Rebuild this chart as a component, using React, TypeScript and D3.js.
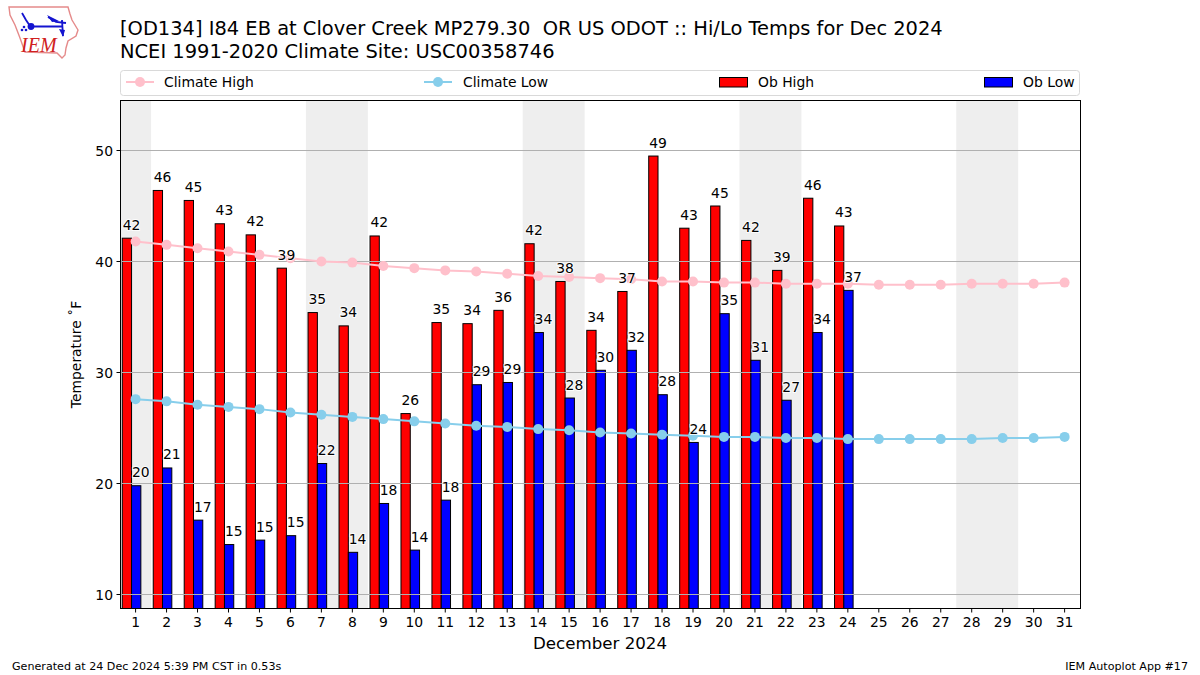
import React from "react";
import * as d3 from "d3";

const days = d3.range(1, 32);
const obDays = d3.range(1, 25);
const obHigh = [42.1,46.4,45.5,43.4,42.4,39.4,35.4,34.2,42.3,26.3,34.5,34.4,35.6,41.6,38.2,33.8,37.3,49.5,43.0,45.0,41.9,39.2,45.7,43.2];
const obLow = [19.8,21.4,16.7,14.5,14.9,15.3,21.8,13.8,18.2,14.0,18.5,28.9,29.1,33.6,27.7,30.2,32.0,28.0,23.7,35.3,31.1,27.5,33.6,37.4];
const obHighLabels = [42,46,45,43,42,39,35,34,42,26,35,34,36,42,38,34,37,49,43,45,42,39,46,43];
const obLowLabels = [20,21,17,15,15,15,22,14,18,14,18,29,29,34,28,30,32,28,24,35,31,27,34,37];
const climHigh = [41.8,41.5,41.2,40.9,40.6,40.3,40.0,39.9,39.6,39.4,39.2,39.1,38.9,38.7,38.6,38.5,38.4,38.2,38.2,38.1,38.1,38.0,38.0,38.0,37.9,37.9,37.9,38.0,38.0,38.0,38.1];
const climLow = [27.6,27.4,27.1,26.9,26.7,26.4,26.2,26.0,25.8,25.6,25.4,25.2,25.1,24.9,24.8,24.6,24.5,24.4,24.3,24.2,24.2,24.1,24.1,24.0,24.0,24.0,24.0,24.0,24.1,24.1,24.2];
const weekendBands = [[0.5,1.5],[6.5,8.5],[13.5,15.5],[20.5,22.5],[27.5,29.5]];
const yTicks = [10,20,30,40,50];
const titleLines = ["[OD134] I84 EB at Clover Creek MP279.30  OR US ODOT :: Hi/Lo Temps for Dec 2024","NCEI 1991-2020 Climate Site: USC00358746"];

const L = 120.5, R = 1080.5, T = 100.5, B = 608.5;
const x = d3.scaleLinear().domain([0.5, 31.5]).range([120.1, 1080.1]);
const y = d3.scaleLinear().domain([10, 50]).range([594.5, 150.5]);
const font = "'DejaVu Sans', sans-serif";
const barW = x(1.3) - x(1);
const line = d3.line<number>().x((_, i) => x(days[i])).y(d => y(d));

function Series({ values, color }: { values: number[]; color: string }) {
  return (
    <g>
      <path d={line(values) ?? ""} fill="none" stroke={color} strokeWidth={2} />
      {values.map((v, i) => <circle key={i} cx={x(days[i])} cy={y(v)} r={5} fill={color} />)}
    </g>
  );
}

function BarSet({ values, offset, color }: { values: number[]; offset: number; color: string }) {
  return (
    <g>
      {values.map((v, i) => (
        <rect key={i} x={x(obDays[i] + offset)} y={y(v)} width={barW} height={B - y(v)}
          fill={color} stroke="#000" strokeWidth={1} />
      ))}
    </g>
  );
}

function BarLabels({ values, labels, offset }: { values: number[]; labels: number[]; offset: number }) {
  return (
    <g>
      {values.map((v, i) => (
        <text key={i} x={x(obDays[i] + offset) + barW} y={y(v) - 8.5} textAnchor="middle" fontSize={13.9}
          fill="#000" stroke="#fff" strokeWidth={2} strokeOpacity={0.85} style={{ paintOrder: "stroke" }}>{labels[i]}</text>
      ))}
    </g>
  );
}

function Logo() {
  return (
    <g>
      <path d="M9,7 L68,7 L70,14 L72,20 L78,30 L76,36 L68,41 L66,48 L65,55 L62,58 L57,53 L25,52 L20,38 L15,25 L10,15 Z"
        fill="#fff" stroke="#e58a8a" strokeWidth={1.4} />
      <path d="M31,26.5 L63,26.5 M48,17 L56,22 L66,23 M62,20 L63,36 M22,13 L26,20 L30,26" fill="none" stroke="#1414d0" strokeWidth={1.8} />
      <circle cx={31} cy={26.5} r={3.4} fill="#1414d0" />
      <path d="M47,15 L59,21 L52,22 Z M59,29 L65,30 L63,37 Z" fill="#1414d0" />
      <circle cx={24} cy={27} r={1.3} fill="#1414d0" /><circle cx={26} cy={30} r={1.3} fill="#1414d0" /><circle cx={22} cy={30} r={1.3} fill="#1414d0" />
      <text x={21} y={52} fontFamily="'Liberation Serif', serif" fontStyle="italic" fontSize={20} fill="#d02020">IEM</text>
    </g>
  );
}

function Legend() {
  const legY = 82;
  const items = [
    { kind: "line", color: "#ffc0cb", x0: 126, label: "Climate High", tx: 164 },
    { kind: "line", color: "#87ceeb", x0: 424, label: "Climate Low", tx: 463 },
    { kind: "bar", color: "#ff0000", x0: 719, label: "Ob High", tx: 758 },
    { kind: "bar", color: "#0000ff", x0: 984, label: "Ob Low", tx: 1023 },
  ];
  return (
    <g>
      <rect x={120.5} y={70.5} width={959} height={25} rx={3} fill="#fff" stroke="#d9d9d9" strokeWidth={1} />
      {items.map(it => (
        <g key={it.label}>
          {it.kind === "line" ? (
            <g>
              <line x1={it.x0} x2={it.x0 + 28} y1={legY} y2={legY} stroke={it.color} strokeWidth={2} />
              <circle cx={it.x0 + 14} cy={legY} r={5} fill={it.color} />
            </g>
          ) : (
            <rect x={it.x0 + 0.5} y={legY - 4.5} width={28} height={9.5} fill={it.color} stroke="#000" strokeWidth={1} />
          )}
          <text x={it.tx} y={legY + 4.5} fontSize={13.9} fill="#000">{it.label}</text>
        </g>
      ))}
    </g>
  );
}

export default function App() {
  return (
    <svg width={1200} height={675} viewBox="0 0 1200 675" fontFamily={font}
      style={{ position: "absolute", left: 0, top: 0, background: "#fff" }}>
      <Logo />
      {titleLines.map((t, i) => (
        <text key={i} x={120} y={35 + i * 22.5} fontSize={19.44} fill="#000" xmlSpace="preserve">{t}</text>
      ))}
      <Legend />
      {weekendBands.map(([a, b]) => (
        <rect key={a} x={x(a)} y={T} width={x(b) - x(a)} height={B - T} fill="#eeeeee" />
      ))}
      <BarSet values={obHigh} offset={-0.43} color="#ff0000" />
      <BarSet values={obLow} offset={-0.13} color="#0000ff" />
      {yTicks.map(t => (
        <g key={t}>
          <line x1={L} x2={R} y1={y(t)} y2={y(t)} stroke="#b0b0b0" strokeWidth={1} />
          <line x1={L - 4} x2={L} y1={y(t)} y2={y(t)} stroke="#000" />
          <text x={L - 7.5} y={y(t) + 5} textAnchor="end" fontSize={13.9} fill="#000">{t}</text>
        </g>
      ))}
      <Series values={climHigh} color="#ffc0cb" />
      <Series values={climLow} color="#87ceeb" />
      <BarLabels values={obHigh} labels={obHighLabels} offset={-0.43} />
      <BarLabels values={obLow} labels={obLowLabels} offset={-0.13} />
      <rect x={L} y={T} width={R - L} height={B - T} fill="none" stroke="#000" strokeWidth={1} />
      {days.map(d => (
        <g key={d}>
          <line x1={x(d)} x2={x(d)} y1={B} y2={B + 4} stroke="#000" />
          <text x={x(d)} y={B + 18.5} textAnchor="middle" fontSize={13.9} fill="#000">{d}</text>
        </g>
      ))}
      <text x={600} y={649} textAnchor="middle" fontSize={16.67} fill="#000">December 2024</text>
      <text transform={`translate(80.5,${(T + B) / 2}) rotate(-90)`} textAnchor="middle" fontSize={13.9} fill="#000">Temperature ˚F</text>
      <text x={12} y={670} fontSize={11.11} fill="#000">Generated at 24 Dec 2024 5:39 PM CST in 0.53s</text>
      <text x={1188} y={670} textAnchor="end" fontSize={11.11} fill="#000">IEM Autoplot App #17</text>
    </svg>
  );
}
